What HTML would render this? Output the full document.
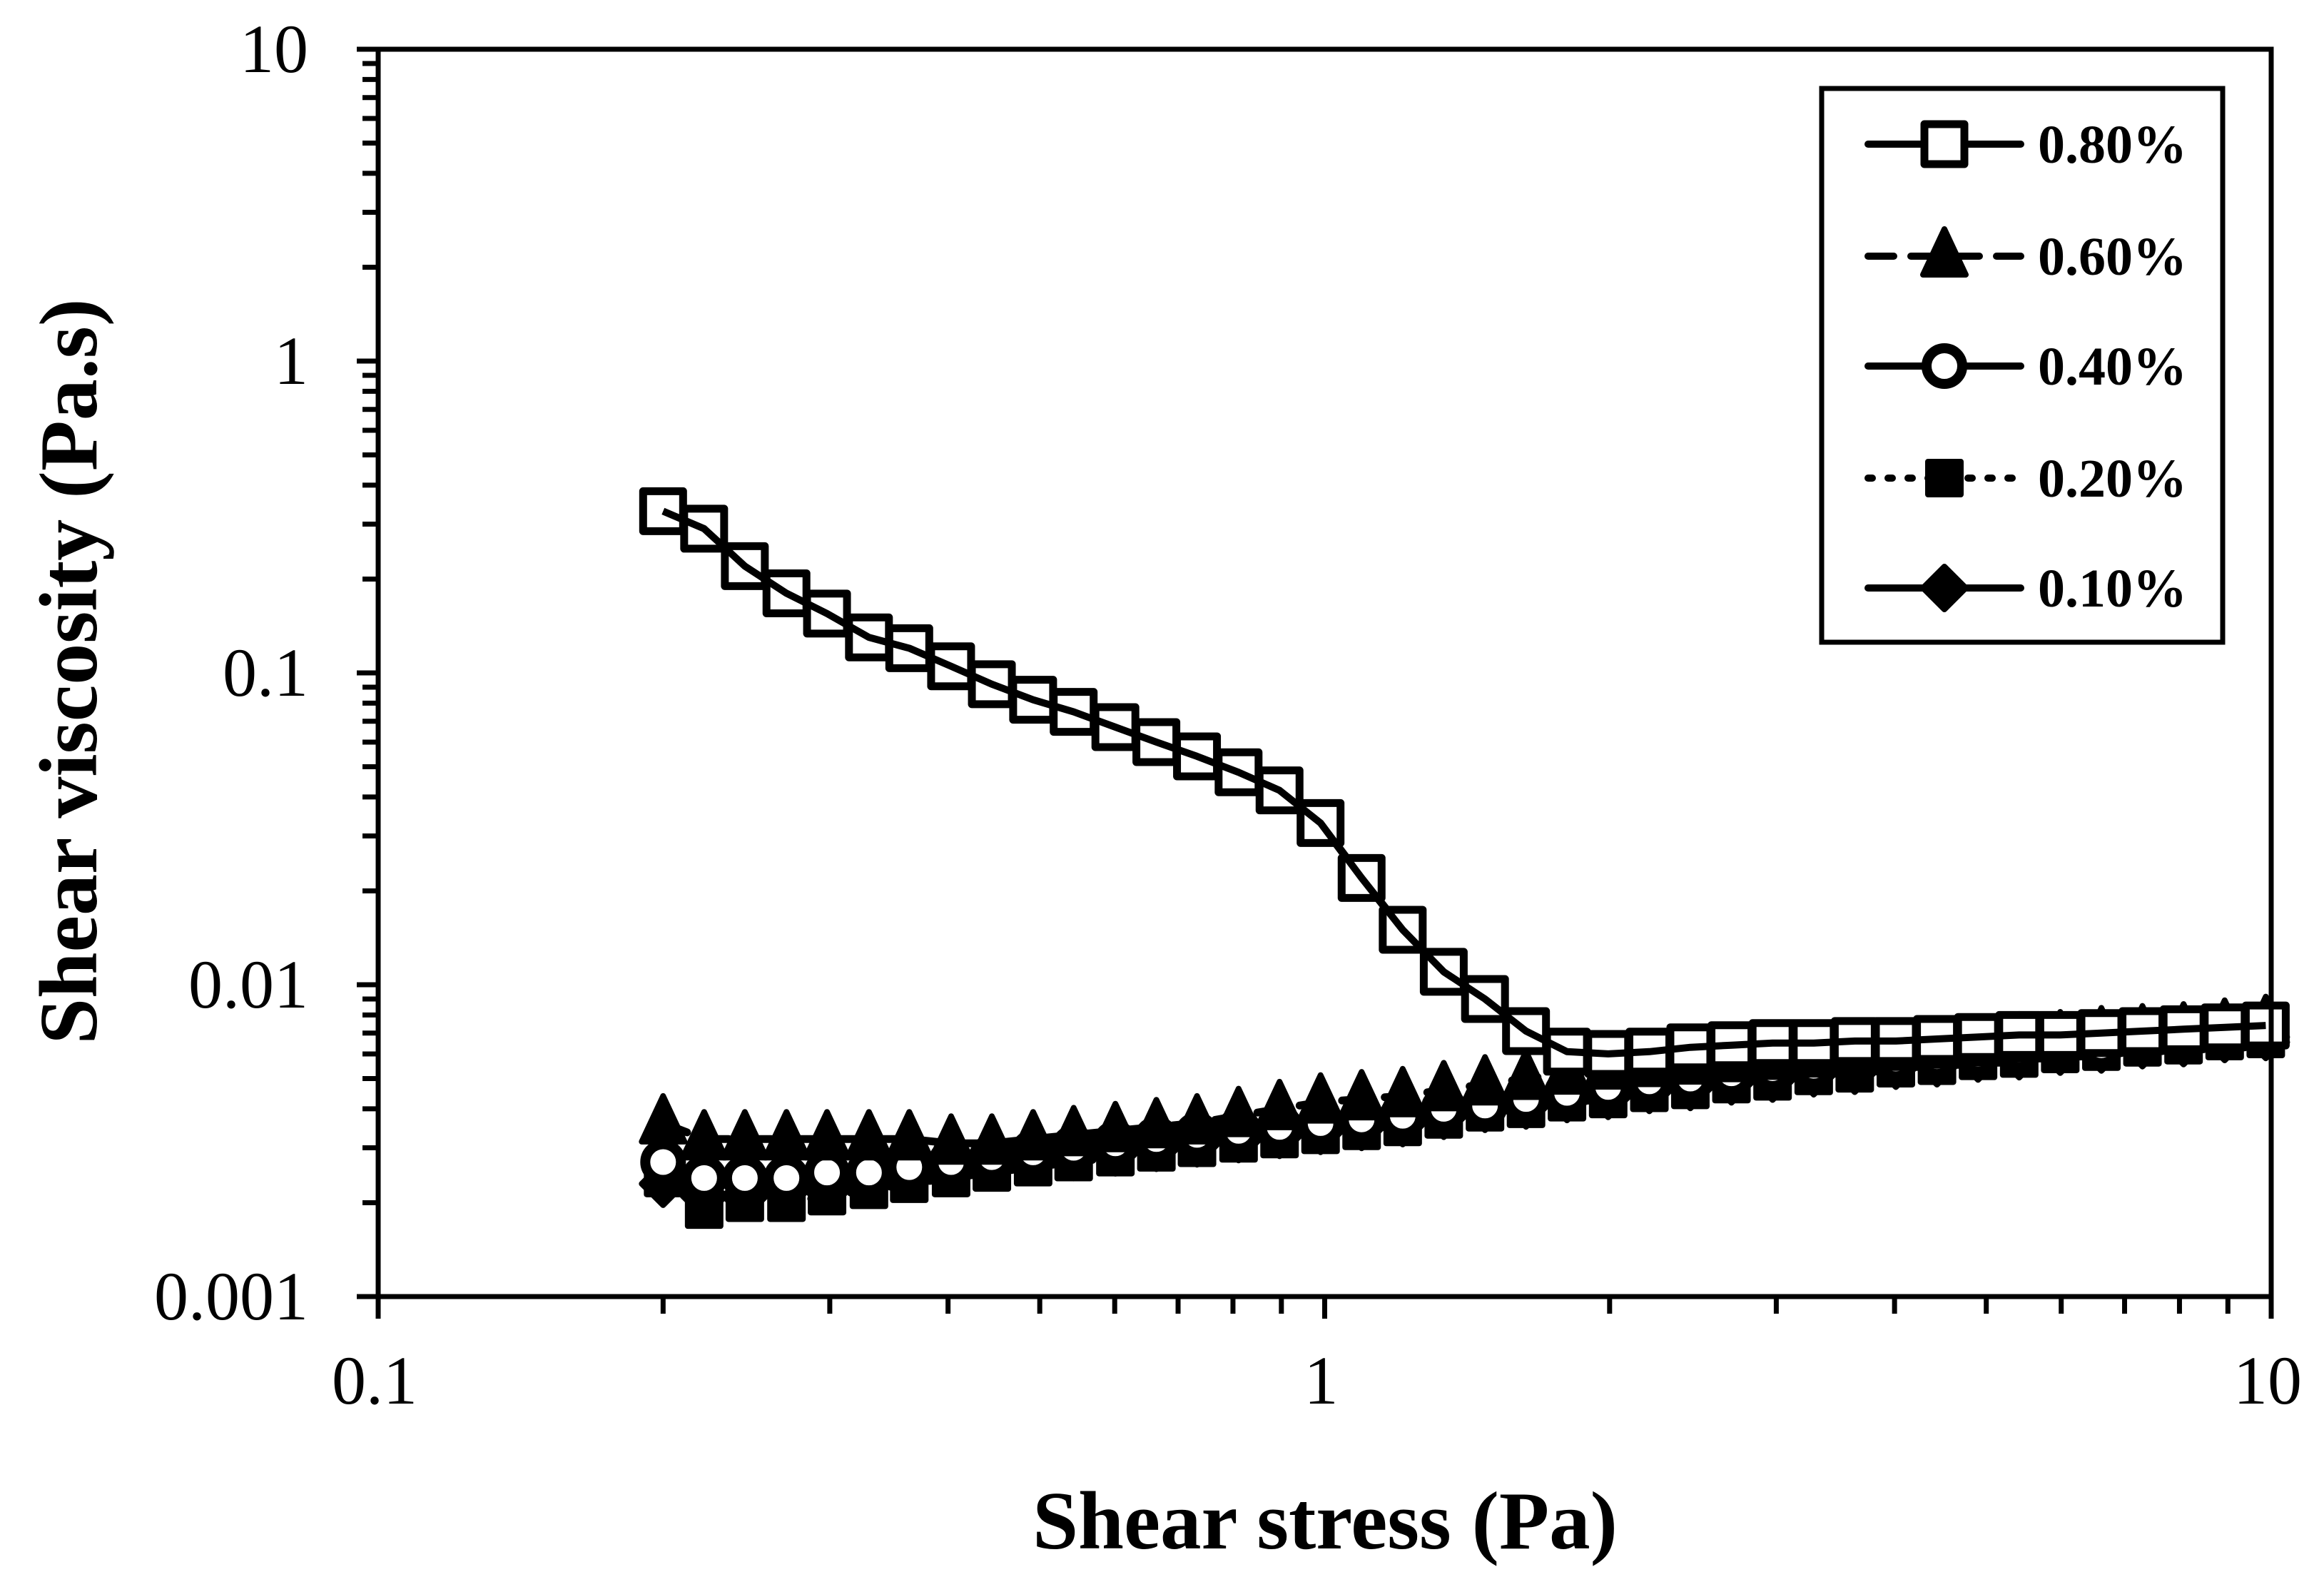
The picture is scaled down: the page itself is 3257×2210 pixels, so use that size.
<!DOCTYPE html>
<html><head><meta charset="utf-8"><style>
html,body{margin:0;padding:0;background:#fff;}
svg{display:block;font-family:"Liberation Serif",serif;}
</style></head><body>
<svg id="chart" width="3257" height="2210" viewBox="0 0 3257 2210">
<rect x="0" y="0" width="3257" height="2210" fill="#fff"/>
<g id="marks"></g>
<g id="axes"></g>
<g id="legend"></g>
</svg>
<script>
const stress = [0.2,0.221,0.244,0.270,0.298,0.330,0.364,0.403,0.445,0.492,0.543,0.601,0.664,0.733,0.811,0.896,0.990,1.094,1.209,1.336,1.477,1.632,1.803,1.993,2.203,2.434,2.690,2.973,3.286,3.631,4.013,4.435,4.901,5.417,5.986,6.616,7.311,8.080,8.930,9.869];
const s080 = [0.33,0.29,0.22,0.18,0.155,0.13,0.12,0.105,0.092,0.082,0.075,0.067,0.06,0.054,0.048,0.042,0.033,0.022,0.015,0.011,0.009,0.0071,0.0061,0.006,0.0061,0.0063,0.0064,0.0065,0.0065,0.0066,0.0066,0.0067,0.0068,0.0069,0.0069,0.0070,0.0071,0.0072,0.0073,0.0074];
const s060 = [0.0036,0.0032,0.0032,0.0032,0.0032,0.0032,0.0032,0.0031,0.0031,0.0032,0.0033,0.0034,0.0035,0.0036,0.0038,0.0040,0.0042,0.0043,0.0044,0.0046,0.0048,0.0050,0.0052,0.0054,0.0055,0.0056,0.0057,0.0058,0.0059,0.0060,0.0062,0.0063,0.0064,0.0066,0.0067,0.0069,0.0070,0.0071,0.0073,0.0075];
const s040 = [0.0027,0.0024,0.0024,0.0024,0.0025,0.0025,0.0026,0.0027,0.0028,0.0029,0.0030,0.0031,0.0032,0.0033,0.0034,0.0035,0.0036,0.0037,0.0038,0.0040,0.0041,0.0043,0.0045,0.0047,0.0049,0.0050,0.0052,0.0054,0.0055,0.0057,0.0058,0.0059,0.0060,0.0062,0.0063,0.0064,0.0066,0.0067,0.0068,0.0070];
const s020 = [0.0024,0.0019,0.0020,0.0020,0.0021,0.0022,0.0023,0.0024,0.0025,0.0026,0.0027,0.0028,0.0029,0.0030,0.0031,0.0032,0.0033,0.0034,0.0035,0.0037,0.0039,0.0040,0.0042,0.0043,0.0045,0.0046,0.0048,0.0049,0.0051,0.0052,0.0054,0.0055,0.0057,0.0058,0.0060,0.0061,0.0063,0.0064,0.0066,0.0067];
const s010 = [0.0023,0.0021,0.0021,0.0022,0.0022,0.0023,0.0024,0.0025,0.0026,0.0027,0.0028,0.0029,0.0030,0.0031,0.0032,0.0033,0.0034,0.0035,0.0036,0.0038,0.0040,0.0041,0.0043,0.0044,0.0046,0.0047,0.0049,0.0050,0.0052,0.0053,0.0055,0.0056,0.0058,0.0059,0.0061,0.0062,0.0064,0.0065,0.0067,0.0068];
const xTicks = [0.1,1,10];
const yTicks = [0.001,0.01,0.1,1,10];
const xTickLabels = ["0.1","1","10"];
const yTickLabels = ["0.001","0.01","0.1","1","10"];
const legendLabels = ["0.80%","0.60%","0.40%","0.20%","0.10%"];

const NS="http://www.w3.org/2000/svg";
const L=530,R=3183,T=69,B=1817;
function xs(v){return L+(Math.log10(v)+1)/2*(R-L);}
function ys(v){return B-(Math.log10(v)+3)/4*(B-T);}
function mk(tag,attrs,parent){const e=document.createElementNS(NS,tag);for(const k in attrs)e.setAttribute(k,attrs[k]);parent.appendChild(e);return e;}
const marks=document.getElementById('marks'),axes=document.getElementById('axes'),leg=document.getElementById('legend');

function marker(type,cx,cy,parent){
  let e;
  if(type==='sq') e=mk('rect',{x:cx-28,y:cy-28,width:56,height:56,fill:'#fff',stroke:'#000','stroke-width':11,'stroke-linejoin':'round'},parent);
  else if(type==='tri') e=mk('polygon',{points:`${cx},${cy-38} ${cx+30},${cy+26} ${cx-30},${cy+26}`,fill:'#000',stroke:'#000','stroke-width':8,'stroke-linejoin':'round'},parent);
  else if(type==='circ') e=mk('circle',{cx:cx,cy:cy,r:25,fill:'#fff',stroke:'#000','stroke-width':14},parent);
  else if(type==='fsq') e=mk('rect',{x:cx-27,y:cy-27,width:54,height:54,rx:4,fill:'#000'},parent);
  else e=mk('polygon',{points:`${cx},${cy-30} ${cx+30},${cy} ${cx},${cy+30} ${cx-30},${cy}`,fill:'#000',stroke:'#000','stroke-width':8,'stroke-linejoin':'round'},parent);
  return e;
}
const series=[
 {name:'0.80',vals:s080,m:'sq',dash:''},
 {name:'0.60',vals:s060,m:'tri',dash:'36 24'},
 {name:'0.40',vals:s040,m:'circ',dash:''},
 {name:'0.20',vals:s020,m:'fsq',dash:'6 22'},
 {name:'0.10',vals:s010,m:'dia',dash:''}];
[4,3,2,1,0].forEach(si=>{
  const s=series[si];
  const g=mk('g',{},marks);
  
  
  const d=s.vals.map((v,i)=>(i?'L':'M')+xs(stress[i]).toFixed(1)+','+ys(v).toFixed(1)).join(' ');
  const p=mk('path',{d:d,fill:'none',stroke:'#000','stroke-width':11,'stroke-dasharray':s.dash,'stroke-linecap':'round','stroke-linejoin':'round'},g);
  
  
  s.vals.forEach((v,i)=>{
    const e=marker(s.m,xs(stress[i]),ys(v),g);
    
    
  });
  if(si===0){
    const p2=mk('path',{d:d,fill:'none',stroke:'#000','stroke-width':10,'stroke-linejoin':'round'},g);
    
    
  }
});

const fr=mk('rect',{x:L,y:T,width:R-L,height:B-T,fill:'none',stroke:'#000','stroke-width':7},axes);


for(let dec=-3;dec<1;dec++){
  for(let k=1;k<10;k++){
    const y=ys(k*Math.pow(10,dec));
    const t=mk('line',{x1:L-(k===1?30:22),x2:L,y1:y,y2:y,stroke:'#000','stroke-width':7},axes);
    
    
  }
}
const yt=mk('line',{x1:L-30,x2:L,y1:ys(10),y2:ys(10),stroke:'#000','stroke-width':7},axes);


for(let dec=-1;dec<1;dec++){
  for(let k=1;k<10;k++){
    const x=xs(k*Math.pow(10,dec));
    const t=mk('line',{x1:x,x2:x,y1:B,y2:B+(k===1?31:24),stroke:'#000','stroke-width':7},axes);
    
    
  }
}
const xt=mk('line',{x1:xs(10),x2:xs(10),y1:B,y2:B+31,stroke:'#000','stroke-width':7},axes);


yTicks.forEach((v,i)=>{
  const t=mk('text',{x:432,y:ys(v)+32,'text-anchor':'end','font-size':96},axes);
  t.textContent=yTickLabels[i];
  
  
});
xTicks.forEach((v,i)=>{
  const t=mk('text',{x:xs(v)-5,y:1967,'text-anchor':'middle','font-size':96},axes);
  t.textContent=xTickLabels[i];
  
  
});
const xtitle=mk('text',{x:1857,y:2170,'text-anchor':'middle','font-size':115,'font-weight':'bold'},axes);
xtitle.textContent='Shear stress (Pa)';


const ytitle=mk('text',{x:0,y:0,'text-anchor':'middle','font-size':116,'font-weight':'bold',transform:'translate(135,941) rotate(-90)'},axes);
ytitle.textContent='Shear viscosity (Pa.s)';



const lb=mk('rect',{x:2553,y:124,width:562,height:776,fill:'#fff',stroke:'#000','stroke-width':7},leg);


const ly=[202,359,513,670,824];
series.forEach((s,i)=>{
  const g=mk('g',{},leg);
  
  
  mk('line',{x1:2618,x2:2832,y1:ly[i],y2:ly[i],stroke:'#000','stroke-width':10,'stroke-dasharray':s.dash,'stroke-linecap':'round'},g);
  marker(s.m,2725,ly[i],g);
  const t=mk('text',{x:2856,y:ly[i]+26,'font-size':76,'font-weight':'bold'},g);
  t.textContent=legendLabels[i];
});
</script>
</body></html>
